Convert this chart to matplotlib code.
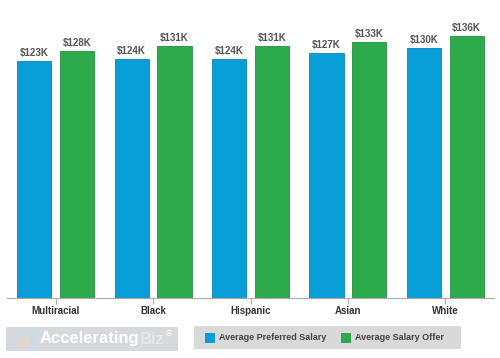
import matplotlib.pyplot as plt
from matplotlib.patches import Rectangle, Polygon

plt.rcParams['font.family'] = ['Liberation Sans', 'DejaVu Sans']

categories = ['Multiracial', 'Black', 'Hispanic', 'Asian', 'White']
preferred = [123, 124, 124, 127, 130]
offer = [128, 131, 131, 133, 136]
series_names = ['Average Preferred Salary', 'Average Salary Offer']

blue = '#0a9ed8'
green = '#2daa4b'

fig = plt.figure(figsize=(5, 3.58), dpi=100)
ax = fig.add_axes([7 / 500, (358 - 298) / 358, 487 / 500, 289 / 358])

x = range(len(categories))
w = 0.35
off = 0.22
b1 = ax.bar([i - off for i in x], preferred, w, color=blue, edgecolor='#0a86b8', linewidth=0.6)
b2 = ax.bar([i + off for i in x], offer, w, color=green, edgecolor='#23913d', linewidth=0.6)

for bars, vals in ((b1, preferred), (b2, offer)):
    for r, v in zip(bars, vals):
        ax.text(r.get_x() + r.get_width() / 2, v + 1.5, f'${v}K', ha='center', va='bottom',
                fontsize=7, fontweight='bold', color='#555555')

ax.set_xlim(-0.5, len(categories) - 0.5)
ax.set_ylim(0, 150)
ax.set_xticks(list(x))
ax.set_xticklabels(categories, fontsize=7, fontweight='bold', color='#333333')
ax.tick_params(axis='x', length=4, color='#aaaaaa', pad=2)
ax.set_yticks([])
for s in ['top', 'right', 'left']:
    ax.spines[s].set_visible(False)
ax.spines['bottom'].set_color('#aaaaaa')

# logo box
fig.patches.append(Rectangle((6 / 500, 7 / 358), 172 / 500, 24 / 358, transform=fig.transFigure,
                             facecolor='#d5d8dc', edgecolor='none'))
fig.patches.append(Polygon([(15 / 500, 12 / 358), (35 / 500, 12 / 358), (35 / 500, 27 / 358)],
                           closed=True, transform=fig.transFigure, facecolor='#e9d6c2', edgecolor='none'))
fig.patches.append(Rectangle((30 / 500, 12 / 358), 5 / 500, 15 / 358, transform=fig.transFigure,
                             facecolor='#c9dbe8', edgecolor='none'))
t1 = fig.text(40 / 500, 19 / 358, 'Accelerating', fontsize=12, fontweight='bold', color='white', va='center')
t2 = fig.text(0, 0, 'Biz', fontsize=12, fontweight='bold', color='#e6e8ea', va='center')
t2.set_position((0, 0))
fig.canvas.draw()
bb = t1.get_window_extent().transformed(fig.transFigure.inverted())
t2.set_position((bb.x1, 19 / 358))
fig.canvas.draw()
bb2 = t2.get_window_extent().transformed(fig.transFigure.inverted())
fig.text(bb2.x1 + 1 / 500, 23 / 358, '\u00ae', fontsize=6, fontweight='bold', color='white', va='center')

# legend box
fig.patches.append(Rectangle((194 / 500, 9 / 358), 267 / 500, 23 / 358, transform=fig.transFigure,
                             facecolor='#d9d9d9', edgecolor='none'))
fig.patches.append(Rectangle((205 / 500, 15 / 358), 10 / 500, 10 / 358, transform=fig.transFigure,
                             facecolor=blue, edgecolor='none'))
fig.text(219 / 500, 20.5 / 358, series_names[0], fontsize=6.5, fontweight='bold', color='#444444', va='center')
fig.patches.append(Rectangle((341 / 500, 15 / 358), 10 / 500, 10 / 358, transform=fig.transFigure,
                             facecolor=green, edgecolor='none'))
fig.text(355 / 500, 20.5 / 358, series_names[1], fontsize=6.5, fontweight='bold', color='#444444', va='center')

fig.savefig('out.png', dpi=100)
